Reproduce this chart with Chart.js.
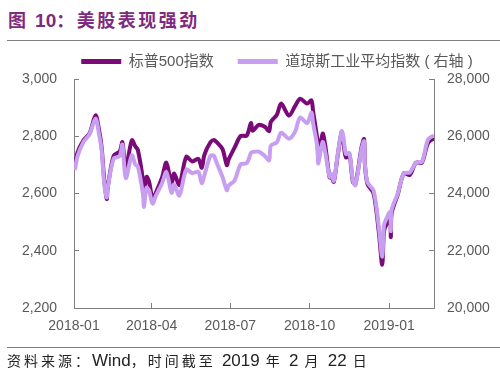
<!DOCTYPE html>
<html>
<head>
<meta charset="utf-8">
<script src="https://cdn.jsdelivr.net/npm/chart.js@4/dist/chart.umd.min.js"></script>
<style>
    body { margin: 0; background: #fff; }
    #wrap { position: relative; width: 500px; height: 375px; overflow: hidden; }
    #chart { position: absolute; left: 0; top: 0; }
    .title { position: absolute; left: 8px; top: 6px; color: #7f2a80; font: bold 18px "Noto Sans CJK SC"; letter-spacing: 2.5px; white-space: nowrap; }
    .title .num { font-family: "Liberation Sans"; font-size: 19px; letter-spacing: 0; }
    .rule { position: absolute; left: 7px; right: 0; height: 1px; background: #7f7f7f; }
    .foot { position: absolute; left: 7px; top: 350px; color: #222; font: 14px "Noto Sans CJK SC"; letter-spacing: 3px; white-space: nowrap; }
    .foot .lat { font-family: "Liberation Sans"; font-size: 17px; letter-spacing: 0; }
</style>
</head>
<body>
<div id="wrap">
    <div class="title">图 <span class="num">10</span>：美股表现强劲</div>
    <div class="rule" style="top:40px"></div>
    <canvas id="chart" width="500" height="375"></canvas>
    <div class="rule" style="top:347px"></div>
    <div class="foot">资料来源：<span class="lat">Wind</span>，时间截至 <span class="lat">2019</span> 年 <span class="lat">2</span> 月 <span class="lat">22</span> 日</div>
</div>
<script>
// 数据：日期、标普500、道琼斯（右轴）
const dates = [
    '2018-01-02', '2018-01-05', '2018-01-12', '2018-01-19', '2018-01-26', '2018-01-30',
    '2018-02-02', '2018-02-05', '2018-02-08', '2018-02-09', '2018-02-16', '2018-02-23',
    '2018-02-26', '2018-03-02', '2018-03-09', '2018-03-13', '2018-03-16', '2018-03-22',
    '2018-03-23', '2018-03-26', '2018-03-29', '2018-04-02', '2018-04-06', '2018-04-13',
    '2018-04-18', '2018-04-24', '2018-04-27', '2018-05-03', '2018-05-11', '2018-05-18',
    '2018-05-25', '2018-05-29', '2018-06-01', '2018-06-08', '2018-06-12', '2018-06-15',
    '2018-06-22', '2018-06-27', '2018-06-29', '2018-07-06', '2018-07-13', '2018-07-20',
    '2018-07-25', '2018-07-27', '2018-08-03', '2018-08-10', '2018-08-15', '2018-08-17',
    '2018-08-24', '2018-08-29', '2018-09-07', '2018-09-14', '2018-09-20', '2018-09-28',
    '2018-10-03', '2018-10-05', '2018-10-10', '2018-10-11', '2018-10-16', '2018-10-19',
    '2018-10-24', '2018-10-26', '2018-10-29', '2018-11-02', '2018-11-07', '2018-11-09',
    '2018-11-12', '2018-11-16', '2018-11-20', '2018-11-23', '2018-11-30', '2018-12-03',
    '2018-12-04', '2018-12-07', '2018-12-14', '2018-12-20', '2018-12-24', '2018-12-26',
    '2018-12-28', '2019-01-02', '2019-01-03', '2019-01-04', '2019-01-11', '2019-01-18',
    '2019-01-25', '2019-02-01', '2019-02-08', '2019-02-15', '2019-02-22'
];
const spx = [
    2695, 2743, 2786, 2810, 2873, 2822,
    2762, 2649, 2581, 2620, 2732, 2747,
    2779, 2691, 2786, 2765, 2752, 2643,
    2588, 2658, 2641, 2582, 2604, 2656,
    2708, 2634, 2670, 2630, 2728, 2712,
    2721, 2690, 2735, 2779, 2787, 2780,
    2755, 2699, 2718, 2760, 2801, 2802,
    2846, 2819, 2840, 2833, 2818, 2850,
    2875, 2914, 2872, 2905, 2931, 2914,
    2925, 2886, 2785, 2728, 2809, 2768,
    2656, 2659, 2641, 2723, 2814, 2781,
    2726, 2736, 2642, 2633, 2760, 2790,
    2700, 2633, 2600, 2467, 2351, 2468,
    2486, 2510, 2448, 2532, 2596, 2671,
    2665, 2707, 2708, 2776, 2793
];
const dji = [
    24824, 25295, 25803, 26071, 26617, 26077,
    25521, 24346, 23860, 24191, 25219, 25310,
    25709, 24538, 25336, 25008, 24947, 23958,
    23533, 24202, 24103, 23644, 23933, 24360,
    24748, 24024, 24311, 23930, 24831, 24715,
    24753, 24362, 24635, 25317, 25320, 25090,
    24581, 24117, 24271, 24456, 25019, 25058,
    25414, 25451, 25463, 25313, 25162, 25669,
    25790, 26124, 25917, 26154, 26657, 26458,
    26828, 26447, 25599, 25053, 25798, 25444,
    24583, 24688, 24443, 25270, 26180, 25989,
    25387, 25413, 24465, 24286, 25538, 25826,
    25027, 24389, 24101, 22859, 21792, 22878,
    23062, 23346, 22686, 23433, 23996, 24706,
    24737, 25064, 25106, 25883, 26031
];
const tickDates = ['2018-01-01', '2018-04-01', '2018-07-01', '2018-10-01', '2019-01-01'];
const tickLabels = ['2018-01', '2018-04', '2018-07', '2018-10', '2019-01'];
const endDate = '2019-02-22';
const leftRange = [2200, 3000, 200];
const rightRange = [20000, 28000, 2000];

const DARK = '#7a0a78';
const LIGHT = '#c89ff0';
const AXIS = '#7f7f7f';
const TEXT = '#595959';
const tickFont = { family: '"Liberation Sans", "Noto Sans CJK SC"', size: 14 };

function dayOf(s) {
    const [y, m, d] = s.split('-').map(Number);
    return (Date.UTC(y, m - 1, d) - Date.UTC(2018, 0, 1)) / 86400000;
}
const tickDays = tickDates.map(dayOf);
const fmt = (v) => v.toLocaleString('en-US');

// 图例整体往右挪一点，和原图对齐
const legendShift = {
    id: 'legendShift',
    afterLayout(chart) {
        chart.legend.left += 18;
        chart.legend.right += 18;
    },
};

new Chart(document.getElementById('chart'), {
    type: 'line',
    data: {
        datasets: [
            {
                label: '标普500指数',
                data: dates.map((d, i) => ({ x: dayOf(d), y: spx[i] })),
                yAxisID: 'y',
                borderColor: DARK,
                backgroundColor: DARK,
                borderWidth: 4,
                pointRadius: 0,
                tension: 0.3,
                order: 2,
            },
            {
                label: '道琼斯工业平均指数 ( 右轴 )',
                data: dates.map((d, i) => ({ x: dayOf(d), y: dji[i] })),
                yAxisID: 'y1',
                borderColor: LIGHT,
                backgroundColor: LIGHT,
                borderWidth: 4,
                pointRadius: 0,
                tension: 0.3,
                order: 1,
            },
        ],
    },
    options: {
        responsive: false,
        animation: false,
        layout: { padding: { left: 18, right: 0, top: 30, bottom: 37 } },
        plugins: {
            tooltip: { enabled: false },
            legend: {
                position: 'top',
                maxHeight: 54,
                labels: {
                    boxWidth: 40,
                    boxHeight: 5,
                    padding: 24,
                    color: TEXT,
                    font: { family: '"Liberation Sans", "Noto Sans CJK SC"', size: 15 },
                    sort: (a, b) => a.datasetIndex - b.datasetIndex,
                    generateLabels: function (chart) {
                        const items = Chart.defaults.plugins.legend.labels.generateLabels(chart);
                        items.forEach((it) => {
                            it.lineWidth = 0;
                            it.fillStyle = it.strokeStyle;
                        });
                        return items;
                    },
                },
            },
        },
        scales: {
            x: {
                type: 'linear',
                min: 0,
                max: dayOf(endDate),
                afterBuildTicks: (scale) => {
                    scale.ticks = tickDays.map((v) => ({ value: v }));
                },
                afterFit: (scale) => { scale.height = 30; },
                ticks: {
                    autoSkip: false,
                    maxRotation: 0,
                    padding: 15,
                    color: TEXT,
                    font: tickFont,
                    callback: (v) => tickLabels[tickDays.indexOf(v)],
                },
                grid: { drawOnChartArea: false, tickLength: -5, color: AXIS },
                border: { color: AXIS },
            },
            y: {
                position: 'left',
                min: leftRange[0],
                max: leftRange[1],
                afterFit: (scale) => { scale.width = 56; },
                ticks: { stepSize: leftRange[2], padding: 22, color: TEXT, font: tickFont, callback: fmt },
                grid: { drawOnChartArea: false, tickLength: -5, color: AXIS },
                border: { color: AXIS },
            },
            y1: {
                position: 'right',
                min: rightRange[0],
                max: rightRange[1],
                afterFit: (scale) => { scale.width = 66; },
                ticks: { stepSize: rightRange[2], padding: 18, color: TEXT, font: tickFont, callback: fmt },
                grid: { drawOnChartArea: false, tickLength: -5, color: AXIS },
                border: { color: AXIS },
            },
        },
    },
    plugins: [legendShift],
});
</script>
</body>
</html>
